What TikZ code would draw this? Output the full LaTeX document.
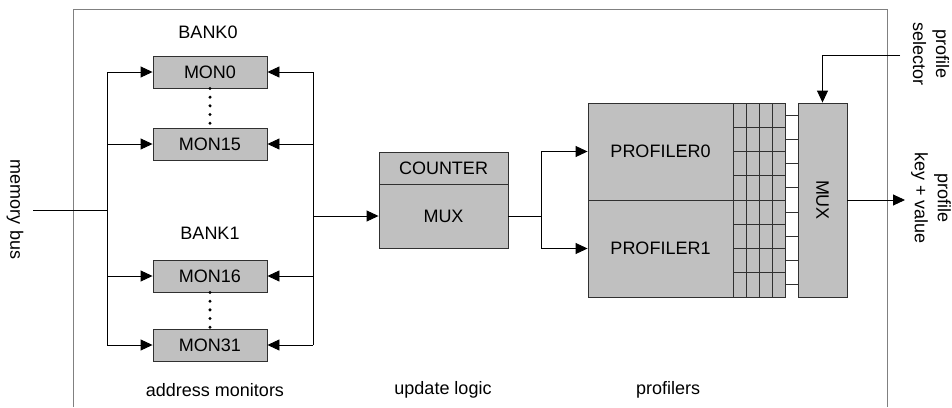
\documentclass[tikz,border=0pt]{standalone}
\usepackage{fontspec}
\setmainfont{Liberation Sans}
\usetikzlibrary{arrows.meta}
\definecolor{blkfill}{HTML}{C0C0C0}
\definecolor{edge}{HTML}{303030}
\definecolor{frame}{HTML}{808080}
\begin{document}
\begin{tikzpicture}[x=1pt,y=-1pt,
  txt/.style={font=\fontsize{18}{23}\selectfont, inner sep=0pt},
  blk/.style={txt, draw=edge, fill=blkfill, line width=0.9pt},
  mon/.style={blk, minimum width=114pt, minimum height=32pt},
  arr/.style={line width=0.9pt, -{Triangle[length=12pt,width=11pt]}},
  wire/.style={line width=0.9pt},
  dotline/.style={line width=3.3pt, line cap=round, dash pattern=on 0pt off 8.7pt}
]
\useasboundingbox (0,0) rectangle (952,407);
% outer frame
\draw[frame, line width=1pt] (73,407) -- (73,9) -- (887,9) -- (887,407);

% monitors
\node[mon] (m0)  at (210,72)  {MON0};
\node[mon] (m15) at (210,144) {MON15};
\node[mon] (m16) at (210,276) {MON16};
\node[mon] (m31) at (210,345) {MON31};
\draw[dotline] (m0.south) -- (m15.north);
\draw[dotline] (m16.south) -- (m31.north);
\node[txt] (bank0) at (208,32) {BANK0};
\node[txt] (bank1) at (210,233) {BANK1};

% input bus
\coordinate (busin) at (33,210);
\coordinate (jin) at (107,210);
\coordinate (L0) at (107,72);
\coordinate (L15) at (107,144);
\coordinate (L16) at (107,276);
\coordinate (L31) at (107,345);
\draw[wire] (busin) -- (jin);
\draw[wire] (L0) -- (L31);
\draw[arr] (L0) -- (m0.west);
\draw[arr] (L15) -- (m15.west);
\draw[arr] (L16) -- (m16.west);
\draw[arr] (L31) -- (m31.west);

% right bus
\coordinate (R0) at (313,72);
\coordinate (R15) at (313,144);
\coordinate (R16) at (313,276);
\coordinate (R31) at (313,345);
\coordinate (Rmid) at (313,216);
\draw[wire] (R0) -- (R31);
\draw[arr] (R0) -- (m0.east);
\draw[arr] (R15) -- (m15.east);
\draw[arr] (R16) -- (m16.east);
\draw[arr] (R31) -- (m31.east);

% update logic
\node[blk, minimum width=129pt, minimum height=32pt] (cnt) at (443.5,168) {COUNTER};
\node[blk, minimum width=129pt, minimum height=64pt] (mux1) at (443.5,216) {MUX};
\draw[arr] (Rmid) -- (mux1.west);

% profilers
\node[blk, minimum width=145pt, minimum height=97pt] (p0) at (660.5,151.5) {PROFILER0};
\node[blk, minimum width=145pt, minimum height=97pt] (p1) at (660.5,248.5) {PROFILER1};
\coordinate (sp) at (541,216);
\coordinate (sp0) at (541,151.5);
\coordinate (sp1) at (541,248.5);
\draw[wire] (mux1.east) -- (sp);
\draw[wire] (sp0) -- (sp1);
\draw[arr] (sp0) -- (p0.west);
\draw[arr] (sp1) -- (p1.west);

% register grid
\draw[draw=edge, fill=blkfill, line width=0.9pt] (733,103) rectangle (785,297);
\foreach \x in {746,759,772} \draw[edge, line width=0.9pt] (\x,103) -- (\x,297);
\foreach \i in {1,...,7} \draw[edge, line width=0.9pt] (733,103+24.25*\i) -- (785,103+24.25*\i);

% output mux
\node[blk, minimum width=49pt, minimum height=194pt] (mux2) at (822.5,200) {};
\node[txt, rotate=-90] (muxlbl) at (mux2.center) {MUX};
\foreach \i in {0,...,7} \draw[edge, line width=0.9pt] (785,115.1+24.25*\i) -- (mux2.west |- 0,115.1+24.25*\i);

% selector and output
\coordinate (sel) at (900,55);
\draw[arr] (sel) -| (mux2.north);
\coordinate (out) at (905,200);
\draw[arr] (mux2.east) -- (out);

% labels
\node[txt, rotate=-90, align=center] (sellbl) at (931,54) {profile\\selector};
\node[txt, rotate=-90, align=center] (outlbl) at (931,198) {profile\\key + value};
\node[txt, rotate=-90] (buslbl) at (15,210) {memory\hspace{6pt}bus};
\node[txt] (l1) at (215,390) {address monitors};
\node[txt] (l2) at (443,390) {update logic};
\node[txt] (l3) at (668,390) {profilers};
\end{tikzpicture}
\end{document}
